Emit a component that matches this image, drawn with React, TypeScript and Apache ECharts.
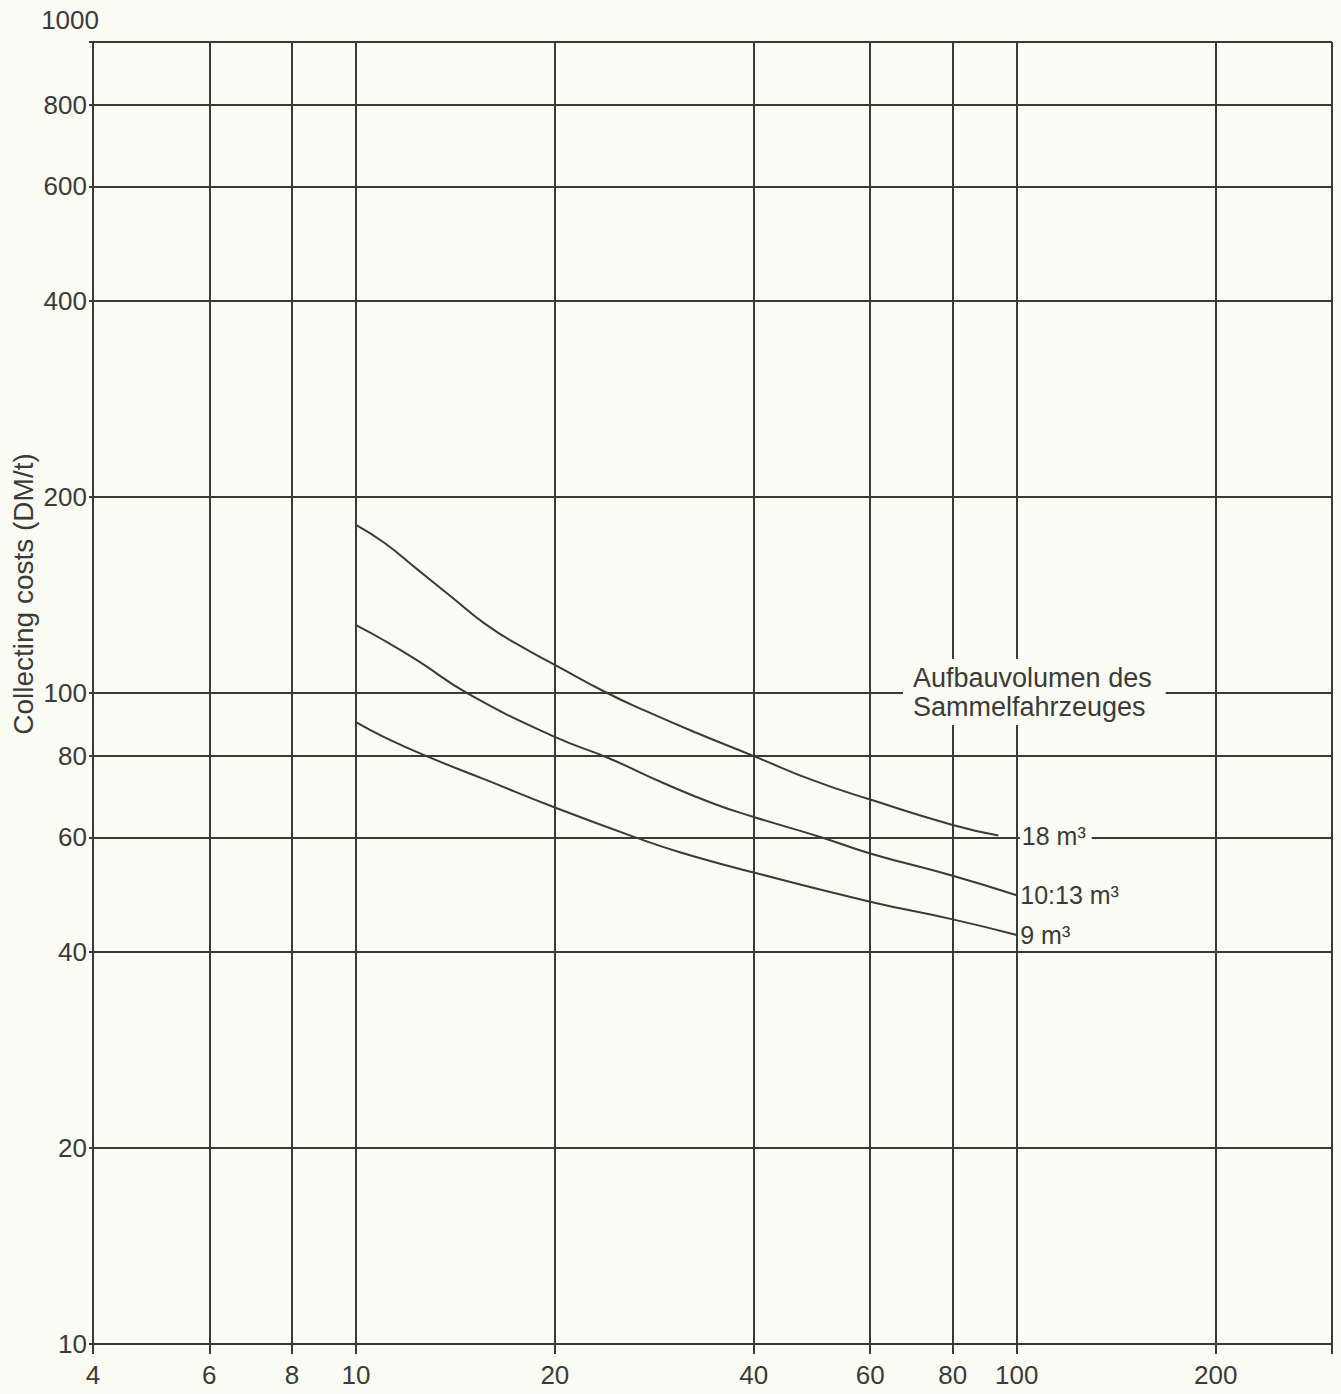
import React, { useEffect, useRef } from 'react';
import * as echarts from 'echarts';

// Axis ticks / labels
const xTicks = [4, 6, 8, 10, 20, 40, 60, 80, 100, 200, 300];
const xLabels = [4, 6, 8, 10, 20, 40, 60, 80, 100, 200];
const yTicks = [10, 20, 40, 60, 80, 100, 200, 400, 600, 800, 1000];

// Series (x, y)
const x18 = [10, 11.05, 12.4, 14, 15.7, 17.7, 20, 24, 27.6, 32.8, 40, 49.2, 60, 80, 93.8];
const y18 = [181.3, 170, 154.7, 140.1, 127.6, 118.2, 110.5, 100, 93.6, 86.8, 80, 73.4, 68.6, 62.7, 60.4];
const x1013 = [10, 11.05, 12.4, 14.8, 20, 24, 29.3, 34.8, 40, 50.7, 60, 80, 100];
const y1013 = [127.1, 120.3, 112.1, 99.7, 85.6, 79.6, 72.6, 67.6, 64.5, 60, 56.7, 52.4, 48.9];
const x9 = [10, 11.05, 12.9, 15.7, 20, 26.5, 31, 40, 60, 80, 100];
const y9 = [90.2, 85.5, 79.7, 73.6, 66.7, 60, 56.9, 53, 47.8, 44.9, 42.5];
const seriesNames = ['18 m³', '10:13 m³', '9 m³'];
const annotation = ['Aufbauvolumen des', 'Sammelfahrzeuges'];
const yTitle = 'Collecting costs (DM/t)';

const BG = '#fafbf3';
const INK = '#3a3a3a';
const FONT = "'Liberation Sans', Arial, sans-serif";

export default function App() {
  const ref = useRef<HTMLDivElement>(null);
  useEffect(() => {
    if (!ref.current) return;
    const chart = echarts.init(ref.current, undefined, { renderer: 'svg' });
    const xs = [x18, x1013, x9];
    const ys = [y18, y1013, y9];
    const labelDist = [21, 1, 1];
    const series = seriesNames.map((name, i) => {
      const data = xs[i].map((x, j) => [x, ys[i][j]]);
      const last = data[data.length - 1];
      return {
        type: 'line',
        name,
        data,
        smooth: 0.5,
        showSymbol: false,
        symbol: 'none',
        lineStyle: { color: INK, width: 2 },
        z: 5,
        markPoint: {
          symbol: 'circle',
          symbolSize: 1,
          itemStyle: { color: 'rgba(0,0,0,0)' },
          label: {
            show: true,
            position: 'right',
            distance: labelDist[i],
            formatter: name,
            fontFamily: FONT,
            fontSize: 25,
            color: INK,
            backgroundColor: BG,
            padding: [1, 6, 1, 2],
          },
          data: [{ coord: last }],
        },
      };
    });
    chart.setOption({
      animation: false,
      backgroundColor: BG,
      grid: { left: 93, right: 9, top: 42, bottom: 50, containLabel: false },
      xAxis: {
        type: 'log',
        logBase: 10,
        min: 4,
        max: 300,
        axisLine: { show: true, lineStyle: { color: INK, width: 2 } },
        axisTick: { show: true, customValues: xTicks, length: 10, lineStyle: { color: INK, width: 2 } },
        axisLabel: {
          show: true,
          customValues: xLabels,
          margin: 18,
          fontFamily: FONT,
          fontSize: 26,
          color: INK,
        },
        splitLine: { show: true, lineStyle: { color: INK, width: 2 } },
        minorTick: { show: false },
        minorSplitLine: { show: false },
      },
      yAxis: {
        type: 'log',
        logBase: 10,
        min: 10,
        max: 1000,
        axisLine: { show: true, lineStyle: { color: INK, width: 2 } },
        axisTick: { show: true, customValues: yTicks, length: 4, lineStyle: { color: INK, width: 2 } },
        axisLabel: {
          show: true,
          customValues: yTicks,
          margin: 6,
          fontFamily: FONT,
          fontSize: 26,
          color: INK,
          showMaxLabel: true,
          showMinLabel: true,
          formatter: (v: number) => (v === 1000 ? '{top|1000}' : String(v)),
          rich: {
            top: {
              fontFamily: FONT,
              fontSize: 26,
              color: INK,
              padding: [0, -12, 44, 0],
            },
          },
        },
        splitLine: { show: true, lineStyle: { color: INK, width: 2 } },
      },
      graphic: [
        {
          type: 'text',
          x: 23,
          y: 594,
          rotation: Math.PI / 2,
          z: 100,
          style: {
            text: yTitle,
            fontFamily: FONT,
            fontSize: 28,
            fill: INK,
            align: 'center',
            verticalAlign: 'middle',
          },
        },
        {
          type: 'text',
          left: 903,
          top: 659,
          z: 100,
          style: {
            text: annotation.join('\n'),
            fontFamily: FONT,
            fontSize: 27,
            lineHeight: 29,
            fill: INK,
            backgroundColor: BG,
            padding: [4, 14, 4, 10],
          },
        },
      ],
      series,
    });
    return () => chart.dispose();
  }, []);
  return (
    <div
      ref={ref}
      style={{ position: 'fixed', left: 0, top: 0, width: 1341, height: 1394, background: BG }}
    />
  );
}
